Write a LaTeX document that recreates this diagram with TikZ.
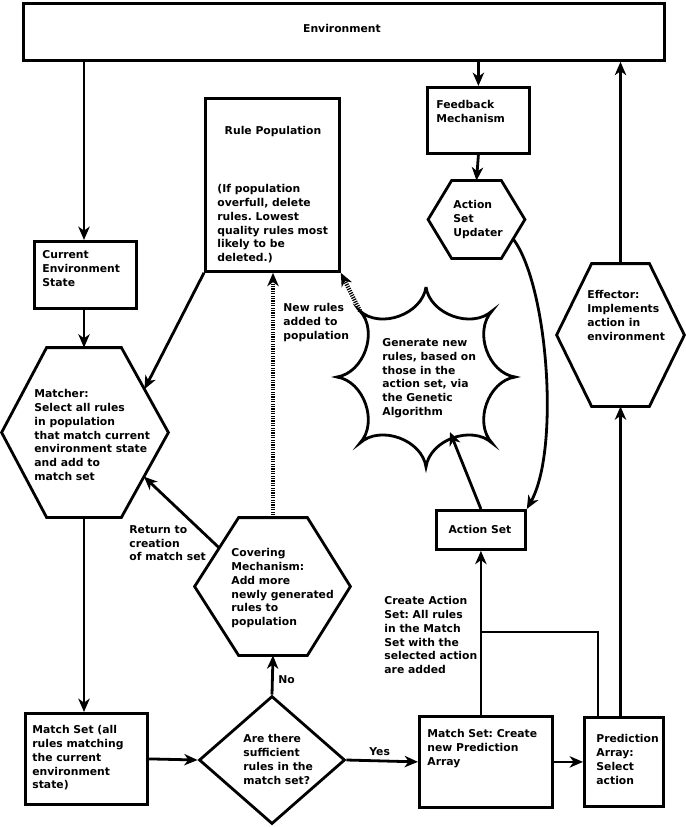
\documentclass[tikz,border=0pt]{standalone}
\usepackage{fontspec}
\setmainfont{DejaVu Sans}
\usetikzlibrary{arrows.meta,calc,shapes.geometric}
\frenchspacing
\begin{document}
\begin{tikzpicture}[x=0.75pt,y=-0.75pt, line width=2.1pt,
  lbl/.style={font=\fontsize{8.1}{10.35}\selectfont\bfseries\frenchspacing, inner sep=0pt},
  txt/.style={lbl, align=left, anchor=north west},
  box/.style={draw, line width=2.1pt, inner sep=0pt, anchor=north west},
  wh/.style 2 args={minimum width=#1*0.75pt, minimum height=#2*0.75pt},
  core/.style={draw=none, inner sep=0pt},
  arr/.style={-{Stealth[length=10pt,width=8.5pt,inset=3pt]}},
  hatch/.style={line width=3.2pt, dash pattern=on 0.9pt off 0.9pt, -{Stealth[length=10pt,width=8.5pt,inset=3pt]}},
]
\useasboundingbox (0,0) rectangle (685,827);

% ---------- boxes ----------
\node[box, wh={641}{57}] (env) at (22,2) {};
\node[lbl] (envt) at (342,28) {Environment};
\node[box, wh={102}{67}] (ces) at (33,240) {};
\node[txt] (cest) at (41,249) {Current\\Environment\\State};
\node[box, wh={134}{173}] (rp) at (204,97) {};
\node[lbl] (rpt) at (273,132) {Rule Population};
\node[txt] (rpb) at (216,183) {(If population\\overfull, delete\\rules. Lowest\\quality rules most\\likely to be\\deleted.)};
\node[box, wh={102}{66}] (fb) at (426,86) {};
\node[txt] (fbt) at (435,99) {Feedback\\Mechanism};
\node[box, wh={89}{39}] (as) at (435,509) {};
\node[lbl] (ast) at (480,529) {Action Set};
\node[box, wh={122}{91}] (ms) at (24,712) {};
\node[txt] (mst) at (31,724) {Match Set (all\\rules matching\\the current\\environment\\state)};
\node[box, wh={133}{91}] (cb) at (418,715) {};
\node[txt] (cbt) at (426,728) {Match Set: Create\\new Prediction\\Array};
\node[box, wh={79}{89}] (pa) at (583,716) {};
\node[txt] (pat) at (595,733) {Prediction\\Array:\\Select\\action};

% ---------- diamond ----------
\node[draw, diamond, inner sep=0pt, wh={146}{128}] (dia) at (272,760) {};
\node[txt] (diat) at (242,733) {Are there\\sufficient\\rules in the\\match set?};

% ---------- hexagons ----------
\node[core, wh={72}{167}] (mat) at (84,432.5) {};
\coordinate (matE) at ($(mat.east)+(47,0)$);
\coordinate (matW) at ($(mat.west)+(-45,0)$);
\draw (mat.north west) -- (mat.north east) -- (matE) -- (mat.south east) -- (mat.south west) -- (matW) -- cycle;
\node[txt] (matt) at (33,388) {Matcher:\\Select all rules\\in population\\that match current\\environment state\\and add to\\match set};

\node[core, wh={47}{75}] (asu) at (476.5,219.5) {};
\coordinate (asuE) at ($(asu.east)+(23.5,0)$);
\coordinate (asuW) at ($(asu.west)+(-23.5,0)$);
\draw (asu.north west) -- (asu.north east) -- (asuE) -- (asu.south east) -- (asu.south west) -- (asuW) -- cycle;
\node[txt] (asut) at (452,199) {Action\\Set\\Updater};

\node[core, wh={55}{140}] (eff) at (620.5,335) {};
\coordinate (effE) at ($(eff.east)+(35,0)$);
\coordinate (effW) at ($(eff.west)+(-35,0)$);
\draw (eff.north west) -- (eff.north east) -- (effE) -- (eff.south east) -- (eff.south west) -- (effW) -- cycle;
\node[txt] (efft) at (586,289) {Effector:\\Implements\\action in\\environment};

\node[core, wh={66}{135}] (cov) at (273,586.5) {};
\coordinate (covE) at ($(cov.east)+(43,0)$);
\coordinate (covW) at ($(cov.west)+(-44,0)$);
\draw (cov.north west) -- (cov.north east) -- (covE) -- (cov.south east) -- (cov.south west) -- (covW) -- cycle;
\node[txt] (covt) at (230,547) {Covering\\Mechanism:\\Add more\\newly generated\\rules to\\population};

% ---------- GA star ----------
\coordinate (gac) at (426,377);
\coordinate (gaT) at ($(gac)+(0,-90)$);
\coordinate (gaTR) at ($(gac)+(66,-66)$);
\coordinate (gaR) at ($(gac)+(89,0)$);
\coordinate (gaBR) at ($(gac)+(66,66)$);
\coordinate (gaB) at ($(gac)+(0,90)$);
\coordinate (gaBL) at ($(gac)+(-66,66)$);
\coordinate (gaL) at ($(gac)+(-89,0)$);
\coordinate (gaUL) at ($(gac)+(-66,-66)$);
\draw[line join=miter] (gaT) to[bend right=62] (gaTR) to[bend right=62] (gaR) to[bend right=62] (gaBR)
  to[bend right=62] (gaB) to[bend right=62] (gaBL) to[bend right=62] (gaL)
  to[bend right=62] (gaUL) to[bend right=62] (gaT);
\node[txt] (ga) at (381,337) {Generate new\\rules, based on\\those in the\\action set, via\\the Genetic\\Algorithm};
\coordinate (gaIn) at ($(gac)+(24,55)$);

% ---------- free labels ----------
\node[txt] (newr) at (282,302) {New rules\\added to\\population};
\node[txt] (ret) at (128,524) {Return to\\creation\\of match set};
\node[txt] (no) at (277,674) {No};
\node[txt] (yes) at (368,746) {Yes};
\node[txt] (cas) at (383,595) {Create Action\\Set: All rules\\in the Match\\Set with the\\selected action\\are added};

% ---------- connector points ----------
\coordinate (matIn1) at ($(mat.north east)!0.49!(matE)$);
\coordinate (matIn2) at ($(matE)!0.52!(mat.south east)$);
\coordinate (covOut) at ($(cov.north west)!0.44!(covW)$);
\coordinate (asuOut) at ($(asu.south east)!0.5!(asuE)$);
\coordinate (jn) at (598,632);

% ---------- connectors ----------
\draw[arr] (env.south -| mat.north) -- (ces.north -| mat.north);
\draw[arr] (ces.south -| mat.north) -- (mat.north);
\draw[arr] (mat.south) -- (mat.south |- ms.north);
\draw[arr] (env.south -| fb.north) -- (fb.north);
\draw[arr] (fb.south) -- (asu.north);
\draw[arr] (eff.north) -- (eff.north |- env.south);
\draw[arr] (eff.south |- pa.north) -- (eff.south);
\draw (jn |- pa.north) -- (jn) -- (jn -| as.south);
\draw[arr] (as.south |- cb.north) -- (as.south);
\draw[arr] (as.north) -- (gaIn);
\draw[arr] (asuOut) .. controls (548,285) and (560,450) .. (as.north east);
\draw[arr] (dia.north) -- (cov.south);
\draw[arr] (covOut) -- (matIn2);
\draw[hatch] (cov.north) -- (cov.north |- rp.south);
\draw[hatch] (gaUL) -- (rp.south east);
\draw[arr] (rp.south west) -- (matIn1);
\draw[arr] (ms.east) -- (dia.west);
\draw[arr] (dia.east) -- (cb.west);
\draw[arr] (cb.east) -- (pa.west);
\end{tikzpicture}
\end{document}
